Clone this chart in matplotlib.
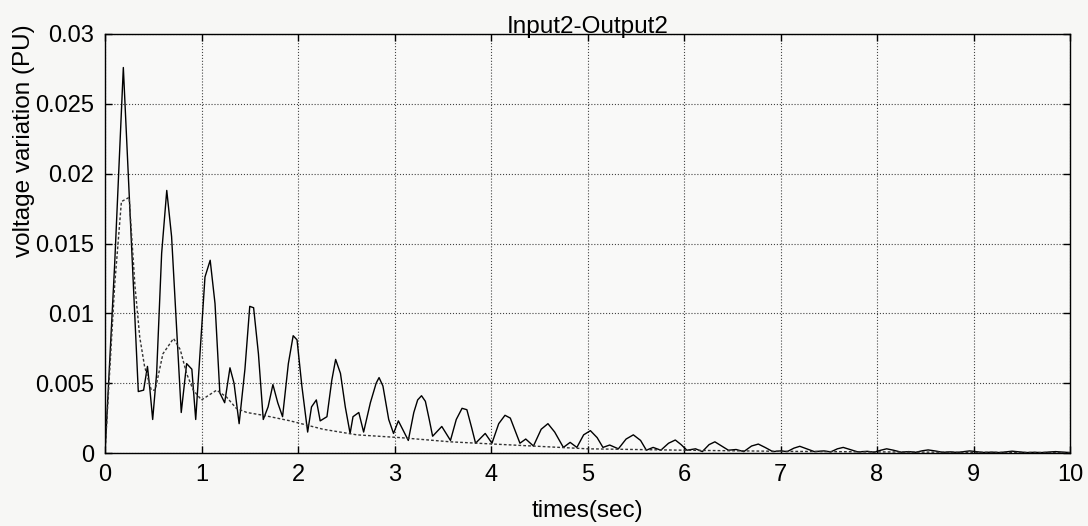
import matplotlib
matplotlib.use("Agg")
import matplotlib.pyplot as plt

# --- datos ---
t_out = [0, 0.10, 0.19, 0.345, 0.40, 0.44, 0.466, 0.494, 0.535, 0.587, 0.64, 0.69,
         0.79, 0.846, 0.90, 0.94, 1.036, 1.09, 1.14, 1.19, 1.24, 1.295, 1.337, 1.39,
         1.45, 1.50, 1.54, 1.59, 1.64, 1.69, 1.74, 1.79, 1.84, 1.90, 1.95, 1.99,
         2.04, 2.10, 2.14, 2.19, 2.23, 2.30, 2.35, 2.39, 2.44, 2.49, 2.54, 2.57,
         2.63, 2.68, 2.75, 2.81, 2.84, 2.88, 2.94, 2.99, 3.04, 3.143, 3.20, 3.24,
         3.28, 3.32, 3.36, 3.395, 3.49, 3.58, 3.64, 3.70, 3.75, 3.80, 3.84, 3.94,
         4.01, 4.08, 4.145, 4.20, 4.25, 4.30, 4.36, 4.44, 4.52, 4.59, 4.66, 4.75,
         4.82, 4.89, 4.96, 5.03, 5.10, 5.16, 5.23, 5.32, 5.40, 5.475, 5.55, 5.61,
         5.68, 5.76, 5.84, 5.91, 5.97, 6.03, 6.12, 6.19, 6.26, 6.32, 6.39, 6.46,
         6.54, 6.62, 6.70, 6.77, 6.84, 6.92, 7.0, 7.07, 7.14, 7.2, 7.27, 7.35,
         7.45, 7.52, 7.59, 7.65, 7.72, 7.8, 7.9, 7.97, 8.04, 8.1, 8.17, 8.25,
         8.33, 8.4, 8.47, 8.53, 8.6, 8.68, 8.76, 8.83, 8.96, 9.1, 9.2, 9.27, 9.4,
         9.55, 9.63, 9.7, 9.85, 10.0]
v_out = [0, 0.0135, 0.0276, 0.0044, 0.0045, 0.0062, 0.0045, 0.0024, 0.0057, 0.0143,
         0.0188, 0.0155, 0.0029, 0.0064, 0.0060, 0.0024, 0.0126, 0.0138, 0.0107,
         0.0043, 0.0036, 0.0061, 0.0050, 0.0021, 0.0060, 0.0105, 0.0104, 0.0071,
         0.0024, 0.0033, 0.0049, 0.0036, 0.0026, 0.0064, 0.0084, 0.0081, 0.0048,
         0.0015, 0.0033, 0.0038, 0.0023, 0.0026, 0.0052, 0.0067, 0.0057, 0.0033,
         0.0014, 0.0026, 0.0029, 0.0015, 0.0036, 0.0050, 0.0054, 0.0048, 0.0024,
         0.0014, 0.0023, 0.0009, 0.0029, 0.0038, 0.0041, 0.0037, 0.0024, 0.0012,
         0.0019, 0.0009, 0.0024, 0.0032, 0.0031, 0.0018, 0.0007, 0.0014, 0.0007,
         0.0021, 0.0027, 0.0025, 0.0016, 0.0007, 0.0010, 0.0005, 0.0017, 0.0021,
         0.0015, 0.0004, 0.00076, 0.0004, 0.0013, 0.0016, 0.0011, 0.0004, 0.00057,
         0.0003, 0.0010, 0.0013, 0.0009, 0.0002, 0.0004, 0.0002, 0.0007, 0.00093,
         0.0006, 0.0002, 0.0003, 0.0001, 0.0006, 0.0008, 0.0005, 0.0002, 0.00025,
         0.0001, 0.0005, 0.00064, 0.0004, 0.0001, 0.00015, 0.0001, 0.00035,
         0.00048, 0.0003, 0.0001, 0.00015, 0.00008, 0.0003, 0.0004, 0.00025,
         0.00008, 0.00012, 0.00006, 0.0002, 0.0003, 0.0002, 0.00006, 0.0001,
         0.00005, 0.00016, 0.00022, 0.00015, 0.00005, 0.00008, 0.00004, 0.00015,
         0.00004, 0.00006, 0.00003, 0.00013, 0.00003, 0.00005, 0.00003, 0.0001,
         0.00003]

t_env = [0, 0.10, 0.17, 0.25, 0.31, 0.36, 0.41, 0.48, 0.52, 0.60, 0.71, 0.78,
         0.845, 0.915, 1.0, 1.157, 1.26, 1.36, 1.47, 1.64, 1.92, 2.26, 2.61, 3.06,
         3.58, 4.0, 5.0, 6.0, 7.0, 8.0, 9.0, 10.0]
v_env = [0, 0.012, 0.018, 0.0183, 0.012, 0.0083, 0.0062, 0.0045, 0.0045, 0.0071,
         0.0082, 0.0074, 0.0057, 0.0045, 0.0038, 0.0045, 0.0040, 0.0032, 0.0029,
         0.0027, 0.0023, 0.0017, 0.0013, 0.0011, 0.0008, 0.00065, 0.0003, 0.0002,
         0.00012, 0.00008, 0.00005, 0.00003]

x_ticks = [0, 1, 2, 3, 4, 5, 6, 7, 8, 9, 10]
y_ticks = [0, 0.005, 0.01, 0.015, 0.02, 0.025, 0.03]
y_tick_labels = ["0", "0.005", "0.01", "0.015", "0.02", "0.025", "0.03"]

plt.rcParams["font.family"] = ["Liberation Sans", "DejaVu Sans"]

fig = plt.figure(figsize=(10.88, 5.26), dpi=100, facecolor="#f7f7f5")
ax = fig.add_axes([105 / 1088, 1 - 453 / 526, 965 / 1088, 419 / 526])
ax.set_facecolor("#f9f9f8")

ax.plot(t_out, v_out, color="black", linewidth=1.0)
ax.plot(t_env, v_env, color="#333333", linewidth=1.0, linestyle=(0, (2, 1.5)))

ax.set_xlim(0, 10)
ax.set_ylim(0, 0.03)
ax.set_xticks(x_ticks)
ax.set_xticklabels([str(v) for v in x_ticks])
ax.set_yticks(y_ticks)
ax.set_yticklabels(y_tick_labels)
ax.tick_params(direction="in", length=5, width=1, labelsize=17, pad=8,
               top=True, right=True)
ax.grid(True, linestyle=":", color="#444444", linewidth=0.8)
for s in ax.spines.values():
    s.set_linewidth(1.0)

ax.set_title("Input2-Output2", fontsize=17.5, pad=1)
ax.set_xlabel("times(sec)", fontsize=17.5, labelpad=10)
ax.set_ylabel("voltage variation (PU)", fontsize=17.5)
ax.yaxis.set_label_coords(-0.073, 0.745)

fig.savefig("out.png", dpi=100, facecolor=fig.get_facecolor())
